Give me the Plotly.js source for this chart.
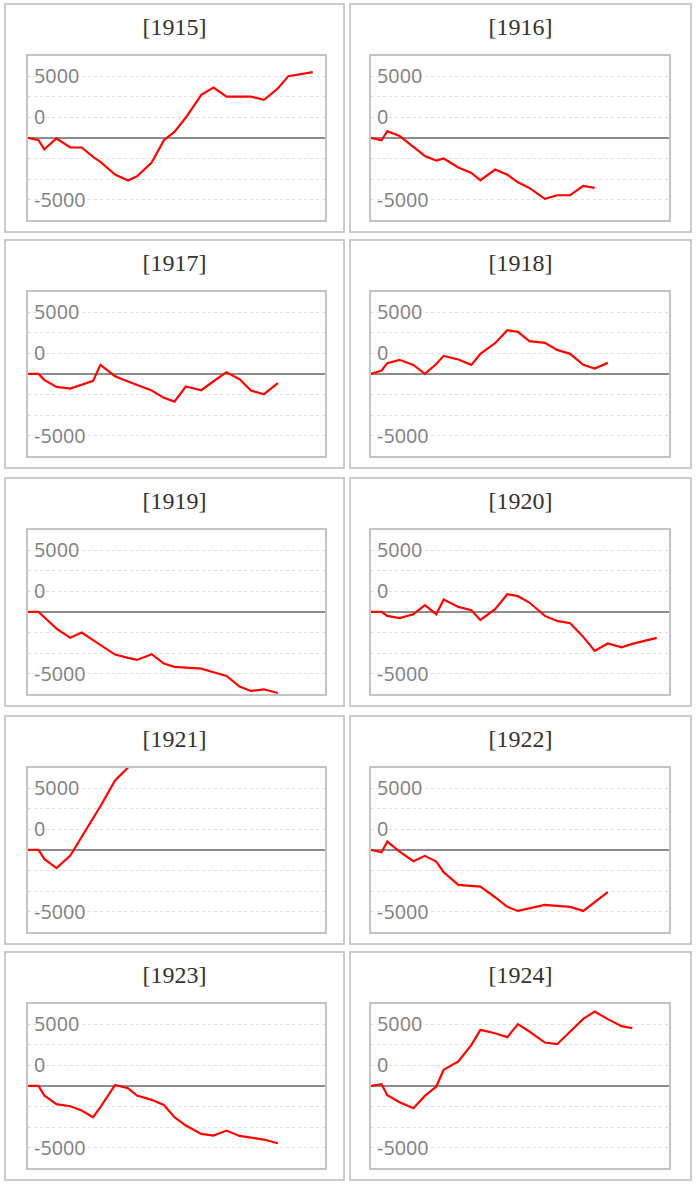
<!DOCTYPE html>
<html>
<head>
<meta charset="utf-8">
<script src="https://cdn.plot.ly/plotly-3.0.1.min.js"></script>
<style>
  body { margin: 0; background: #fff; }
  .panel { position: absolute; box-sizing: border-box; border: 2px solid #ccc; height: 230px; }
</style>
</head>
<body>
<script>
// Jours (depuis le début de l'année) des relevés, communs à toutes les années
var xDays = [0, 13, 20, 35, 52, 66, 80, 89, 107, 123, 134, 152, 167, 180, 194, 213, 228, 244, 260, 274, 290, 307, 320, 334, 350];

var years = [1915, 1916, 1917, 1918, 1919, 1920, 1921, 1922, 1923, 1924];

// Valeurs lues sur chaque graphe
var v1915 = [0, -190, -920, -50, -780, -780, -1540, -1940, -2970, -3450, -3100, -2000, -190, 485, 1645, 3480, 4070, 3340, 3340, 3340, 3075, 3990, 4990, 5150, 5310];
var v1916 = [0, -190, 540, 160, -730, -1460, -1830, -1670, -2400, -2830, -3425, -2560, -2970, -3590, -4045, -4935, -4640, -4640, -3885, -4045];
var v1917 = [0, 0, -485, -1050, -1185, -865, -565, 730, -190, -620, -915, -1350, -1940, -2240, -1025, -1320, -595, 135, -430, -1350, -1645, -755];
var v1918 = [0, 270, 865, 1135, 730, 0, 800, 1455, 1160, 730, 1620, 2480, 3535, 3400, 2645, 2510, 1940, 1620, 730, 430, 890];
var v1919 = [0, 0, -430, -1350, -2100, -1670, -2290, -2700, -3450, -3720, -3885, -3425, -4180, -4450, -4505, -4585, -4880, -5180, -6040, -6390, -6260, -6555];
var v1920 = [0, 0, -325, -510, -190, 540, -190, 1000, 405, 135, -650, 215, 1430, 1270, 755, -325, -730, -915, -2020, -3155, -2560, -2860, -2590, -2345, -2100];
var v1921 = [0, 0, -730, -1480, -460, 1025, 2510, 3530, 5610, 6660];
var v1922 = [0, -190, 675, -135, -915, -485, -945, -1805, -2830, -2910, -2970, -3830, -4610, -4935, -4720, -4450, -4530, -4610, -4935, -4235, -3425];
var v1923 = [0, 0, -780, -1480, -1645, -1995, -2535, -1725, 80, -190, -780, -1130, -1540, -2535, -3210, -3885, -4020, -3615, -4045, -4180, -4340, -4640];
var v1924 = [0, 135, -755, -1320, -1805, -810, -55, 1295, 1970, 3320, 4530, 4260, 3940, 4990, 4395, 3505, 3370, 4395, 5420, 6015, 5395, 4830, 4665];

var series = [v1915, v1916, v1917, v1918, v1919, v1920, v1921, v1922, v1923, v1924];

// Graduations de l'axe y (le "0" est affiché sur la deuxième ligne, comme l'original)
var yTicks = [-5000, -3333.3, -1666.7, 0, 1666.7, 3333.3, 5000];
var yTickText = ['-5000', '', '', '', '0', '', '5000'];

// Placement des cases
var rowTops = [3, 239, 477, 715, 951];
var colLefts = [4, 349];
var colWidths = [341, 343];
var colMargins = [{l: 22, r: 18}, {l: 20, r: 21}];

for (let i = 0; i < years.length; i++) {
    let col = i % 2;
    let row = Math.floor(i / 2);

    let div = document.createElement('div');
    div.className = 'panel';
    div.id = 'chart' + years[i];
    div.style.left = colLefts[col] + 'px';
    div.style.top = rowTops[row] + 'px';
    div.style.width = colWidths[col] + 'px';
    document.body.appendChild(div);

    let trace = {
        x: xDays.slice(0, series[i].length),
        y: series[i],
        type: 'scatter',
        mode: 'lines',
        line: {color: '#ff0000', width: 2.2},
        hoverinfo: 'skip'
    };

    let layout = {
        width: colWidths[col] - 4,
        height: 226,
        margin: {l: colMargins[col].l, r: colMargins[col].r, t: 51, b: 11, pad: 0},
        paper_bgcolor: '#fff',
        plot_bgcolor: '#fff',
        showlegend: false,
        title: {
            text: '[' + years[i] + ']',
            font: {family: 'Liberation Serif', size: 24, color: '#333'},
            x: 0.5, xanchor: 'center',
            y: 1 - 22 / 226, yanchor: 'middle', yref: 'container'
        },
        xaxis: {
            range: [0, 365],
            showgrid: false, zeroline: false, showticklabels: false, ticks: '',
            showline: true, mirror: true, linecolor: '#c4c4c4', linewidth: 2
        },
        yaxis: {
            range: [-6640, 6620],
            tickvals: yTicks,
            ticktext: yTickText,
            ticks: '',
            ticklabelposition: 'inside',
            ticklabelstandoff: 7,
            tickfont: {family: 'Open Sans', size: 19.8, color: '#808080'},
            showgrid: true, gridcolor: '#dddddd', gridwidth: 1, griddash: 'dot',
            zeroline: true, zerolinecolor: '#8c8c8c', zerolinewidth: 2,
            showline: true, mirror: true, linecolor: '#c4c4c4', linewidth: 2
        }
    };

    Plotly.newPlot(div.id, [trace], layout, {staticPlot: true});
}
</script>
</body>
</html>
